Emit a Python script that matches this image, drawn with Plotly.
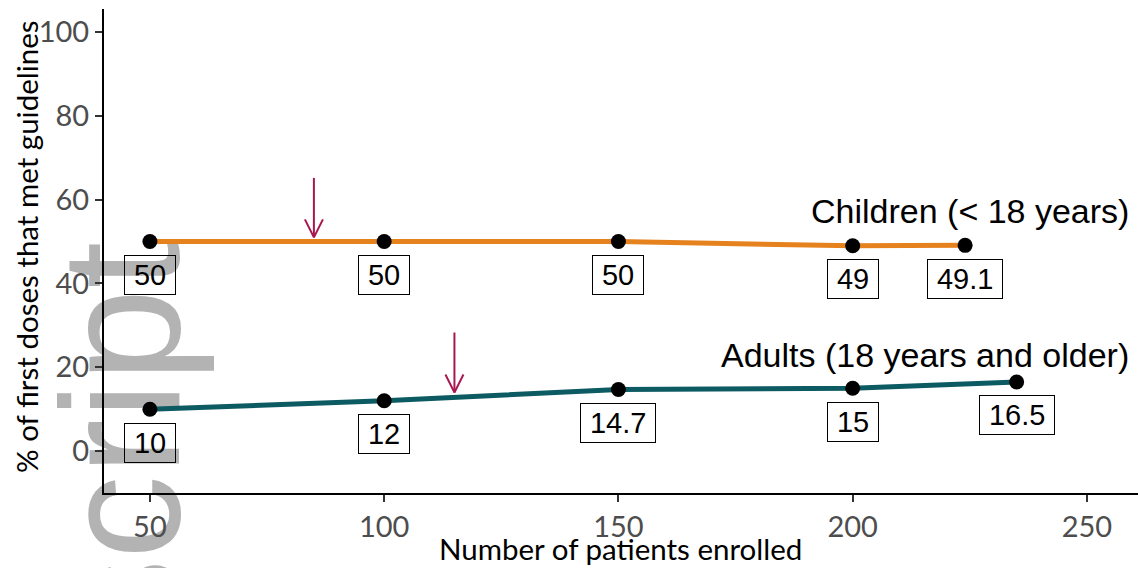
import plotly.graph_objects as go

# ---- data ----
child_x = [50, 100, 150, 200, 224]
child_y = [50, 50, 50, 49, 49.1]
child_lbl = ["50", "50", "50", "49", "49.1"]

adult_x = [50, 100, 150, 200, 235]
adult_y = [10, 12, 14.7, 15, 16.5]
adult_lbl = ["10", "12", "14.7", "15", "16.5"]

arrow_x = [85, 115]
arrow_top = [65.2, 28.3]
arrow_tip = [51.0, 14.0]

series_names = ["Children (< 18 years)", "Adults (18 years and older)"]
series_label_y = [57.2, 22.9]

x_ticks = [50, 100, 150, 200, 250]
y_ticks = [0, 20, 40, 60, 80, 100]

# ---- style ----
ORANGE = "#E6821E"
TEAL = "#0C5A62"
ARROW = "#A8174F"
XR = [40.2, 260.9]
YR = [-10.0, 105.5]
W, H = 1138, 568
ML, MR, MT, MB = 104, 0, 9, 75
px_x = (W - ML - MR) / (XR[1] - XR[0])
px_y = (H - MT - MB) / (YR[1] - YR[0])
LBL_SIZE = 29

fig = go.Figure()

for xs, ys, col in [(child_x, child_y, ORANGE), (adult_x, adult_y, TEAL)]:
    fig.add_trace(go.Scatter(x=xs, y=ys, mode="lines",
                             line=dict(color=col, width=5), hoverinfo="skip"))
for xs, ys in [(child_x, child_y), (adult_x, adult_y)]:
    fig.add_trace(go.Scatter(x=xs, y=ys, mode="markers",
                             marker=dict(color="black", size=15), hoverinfo="skip"))

annotations = []
shapes = []

def py(p):
    return (H - MB - p) / (H - MT - MB)

def pxp(p):
    return (p - ML) / (W - ML - MR)

# watermark (below everything)
shapes.append(dict(type="rect", xref="paper", yref="paper",
                   x0=pxp(40), x1=pxp(170), y0=py(650), y1=py(235),
                   line=dict(width=0), fillcolor="rgba(0,0,0,0)", layer="below",
                   label=dict(text="script", textangle=-90, textposition="middle center",
                              font=dict(family="Liberation Sans, Arial", size=168, color="#b3b3b3"))))

# value labels
NUDGE = 8
def text_w(t):
    return sum(0.278 if c == "." else 0.556 for c in t) * LBL_SIZE

for xs, ys, ls in [(child_x, child_y, child_lbl), (adult_x, adult_y, adult_lbl)]:
    for x, y, t in zip(xs, ys, ls):
        annotations.append(dict(x=x, y=y - NUDGE, text=t, showarrow=False,
                                font=dict(family="Liberation Sans, Arial", size=LBL_SIZE, color="black"),
                                bordercolor="black", borderwidth=1, borderpad=3,
                                width=text_w(t) + 12,
                                xanchor="center", yanchor="middle"))

# series labels
for name, yy in zip(series_names, series_label_y):
    annotations.append(dict(x=259.3, y=yy, text=name, showarrow=False,
                            xanchor="right", yanchor="middle",
                            font=dict(family="Liberation Sans, Arial", size=34, color="black")))

# arrows
hx = 9 / px_x
hy = 18 / px_y
for ax, top, tip in zip(arrow_x, arrow_top, arrow_tip):
    shapes.append(dict(type="line", x0=ax, x1=ax, y0=top, y1=tip,
                       line=dict(color=ARROW, width=2)))
    shapes.append(dict(type="line", x0=ax - hx, x1=ax, y0=tip + hy, y1=tip,
                       line=dict(color=ARROW, width=2)))
    shapes.append(dict(type="line", x0=ax + hx, x1=ax, y0=tip + hy, y1=tip,
                       line=dict(color=ARROW, width=2)))

# axis titles
TF = "Lato, Open Sans, sans-serif"
annotations.append(dict(xref="paper", yref="paper", x=0, y=py(247),
                        xshift=26 - ML, text="% of first doses that met guidelines",
                        textangle=-90, showarrow=False, xanchor="center", yanchor="middle",
                        font=dict(family=TF, size=29.5, color="black")))
annotations.append(dict(xref="paper", yref="paper", x=pxp(620), y=0,
                        yshift=-55, text="Number of patients enrolled",
                        showarrow=False, xanchor="center", yanchor="middle",
                        font=dict(family=TF, size=29.5, color="black")))

axis_common = dict(showline=True, linecolor="black", linewidth=2, ticks="outside",
                   ticklen=7, tickwidth=1.5, tickcolor="#333333", showgrid=False,
                   zeroline=False, tickfont=dict(family=TF, size=29, color="#4d4d4d"))

fig.update_layout(
    width=W, height=H,
    margin=dict(l=ML, r=MR, t=MT, b=MB),
    paper_bgcolor="white", plot_bgcolor="white",
    showlegend=False,
    xaxis=dict(range=XR, tickvals=x_ticks, **axis_common),
    yaxis=dict(range=YR, tickvals=y_ticks, **axis_common),
    annotations=annotations, shapes=shapes,
)

fig.write_html("out.html", config={"displayModeBar": False},
               post_script="document.body.style.margin='0';document.body.style.overflow='hidden';")
